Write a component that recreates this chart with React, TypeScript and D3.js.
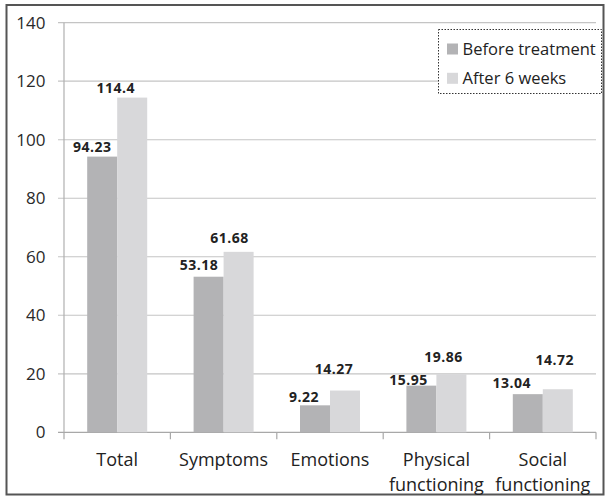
import React from "react";
import * as d3 from "d3";

const categories: string[][] = [["Total"], ["Symptoms"], ["Emotions"], ["Physical", "functioning"], ["Social", "functioning"]];
const seriesNames = ["Before treatment", "After 6 weeks"];
const beforeValues = [94.23, 53.18, 9.22, 15.95, 13.04];
const afterValues = [114.4, 61.68, 14.27, 19.86, 14.72];
const valueLabels = [["94.23", "53.18", "9.22", "15.95", "13.04"], ["114.4", "61.68", "14.27", "19.86", "14.72"]];
const yTicks = [0, 20, 40, 60, 80, 100, 120, 140];

// label nudges (layout only)
const labelDx = [[-10, -9.5, -11, -13, -16], [-16.5, -9, -11, -8, -3]];
const labelDy = [[-5, -7, -3, -1, -6], [-4.4, -9, -16.6, -12.5, -24]];

const colors = ["#b3b3b5", "#d8d8da"];
const W = 606, H = 496;
const left = 64, right = 596, top = 22.7, bottom = 432.3;
const font = "'Open Sans', sans-serif";

export default function App() {
  const keys = categories.map((c) => c.join(" "));
  const x0 = d3.scaleBand<string>().domain(keys).range([left, right]).padding(0);
  const groupW = x0.bandwidth() * 0.564;
  const x1 = d3.scaleBand<string>().domain(seriesNames).range([0, groupW]).padding(0);
  const y = d3.scaleLinear().domain([0, 140]).range([bottom, top]);
  const data = [beforeValues, afterValues];

  return (
    <svg width={W} height={H} style={{ position: "absolute", left: 0, top: 0, background: "#fff" }} fontFamily={font}>
      <rect x={0} y={0} width={W} height={H} fill="#fff" />
      <rect x={6.5} y={5} width={597} height={489.5} fill="none" stroke="#555" strokeWidth={2} />
      {yTicks.map((t) => (
        <g key={t}>
          <line x1={58} x2={right} y1={y(t)} y2={y(t)} stroke={t === 0 ? "#a8a8a8" : "#c4c4c4"} strokeWidth={1.2} />
          <text x={45.5} y={y(t)} dy="0.36em" textAnchor="end" fontSize={17} fill="#2a2a2a">{t}</text>
        </g>
      ))}
      <line x1={left} x2={left} y1={top} y2={bottom} stroke="#b0b0b0" strokeWidth={1.2} />
      {keys.map((k, i) => (
        <line key={"t" + i} x1={x0(k)!} x2={x0(k)!} y1={bottom} y2={bottom + 7} stroke="#a8a8a8" strokeWidth={1.2} />
      ))}
      <line x1={right} x2={right} y1={bottom} y2={bottom + 7} stroke="#a8a8a8" strokeWidth={1.2} />
      {data.map((vals, s) =>
        vals.map((v, i) => {
          const bx = x0(keys[i])! + (x0.bandwidth() - groupW) / 2 + x1(seriesNames[s])!;
          return (
            <rect key={s + "-" + i} x={bx} y={y(v)} width={x1.bandwidth()} height={y(0) - y(v)} fill={colors[s]} />
          );
        })
      )}
      {data.map((vals, s) =>
        vals.map((v, i) => {
          const cx = x0(keys[i])! + (x0.bandwidth() - groupW) / 2 + x1(seriesNames[s])! + x1.bandwidth() / 2;
          return (
            <text key={"l" + s + "-" + i} x={cx + labelDx[s][i]} y={y(v) + labelDy[s][i]} textAnchor="middle" fontSize={14} fontWeight="bold" letterSpacing={0.5} fill="#222">
              {valueLabels[s][i]}
            </text>
          );
        })
      )}
      {categories.map((lines, i) => (
        <text key={"c" + i} textAnchor="middle" fontSize={18} fill="#222">
          {lines.map((ln, j) => (
            <tspan key={j} x={x0(keys[i])! + x0.bandwidth() / 2} y={466 + j * 24.5}>{ln}</tspan>
          ))}
        </text>
      ))}
      <rect x={438.5} y={29.5} width={163} height={64} fill="#fff" stroke="#333" strokeWidth={1} strokeDasharray="1.5,1.5" />
      {seriesNames.map((n, s) => (
        <g key={n}>
          <rect x={447} y={43.5 + s * 29.3} width={11} height={11} fill={colors[s]} />
          <text x={462.5} y={49 + s * 29.3} dy="0.36em" fontSize={16.5} fill="#222">{n}</text>
        </g>
      ))}
    </svg>
  );
}
